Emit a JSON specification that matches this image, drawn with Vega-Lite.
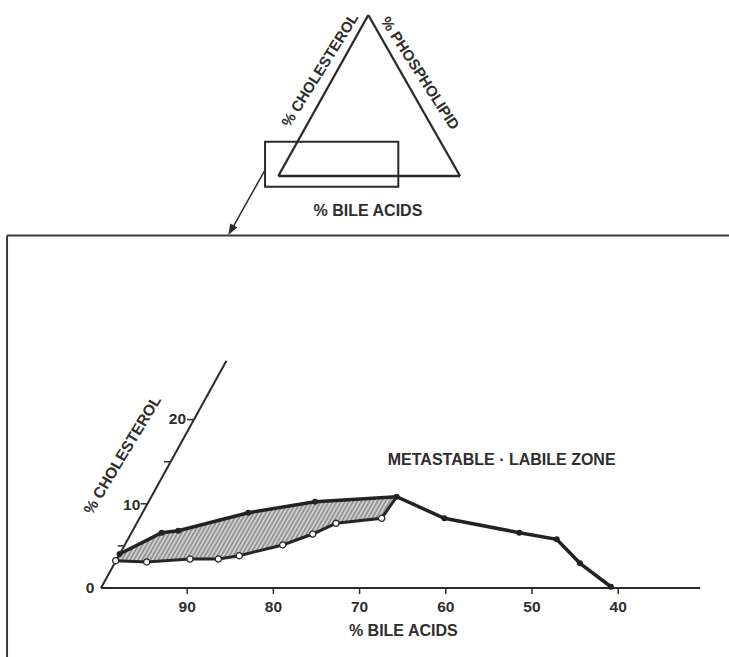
{
  "$schema": "https://vega.github.io/schema/vega-lite/v6.json",
  "width": 729,
  "height": 657,
  "padding": 0,
  "autosize": "none",
  "background": "white",
  "config": {
    "view": {"stroke": null},
    "axis": {"grid": false, "disable": true},
    "text": {"font": "Liberation Sans", "fontWeight": "bold", "fill": "#2e2e2e"}
  },
  "data": {"values": [{}]},
  "datasets": {
    "upper": [
      {"i": 1, "b": 97.85, "c": 4.04},
      {"i": 2, "b": 92.96, "c": 6.57},
      {"i": 3, "b": 91.03, "c": 6.81},
      {"i": 4, "b": 82.91, "c": 8.94},
      {"i": 5, "b": 75.17, "c": 10.25},
      {"i": 6, "b": 65.70, "c": 10.84},
      {"i": 7, "b": 60.17, "c": 8.28},
      {"i": 8, "b": 51.47, "c": 6.57},
      {"i": 9, "b": 47.13, "c": 5.78},
      {"i": 10, "b": 44.43, "c": 2.93},
      {"i": 11, "b": 40.84, "c": 0.15}
    ],
    "lower": [
      {"i": 1, "b": 98.30, "c": 3.24},
      {"i": 2, "b": 94.70, "c": 3.09},
      {"i": 3, "b": 89.68, "c": 3.44},
      {"i": 4, "b": 86.39, "c": 3.44},
      {"i": 5, "b": 83.96, "c": 3.84},
      {"i": 6, "b": 78.92, "c": 5.11},
      {"i": 7, "b": 75.44, "c": 6.41},
      {"i": 8, "b": 72.74, "c": 7.68},
      {"i": 9, "b": 67.44, "c": 8.28},
      {"i": 10, "b": 65.70, "c": 10.84}
    ],
    "zone": [
      {"i": 1, "b": 97.85, "c": 4.04},
      {"i": 2, "b": 92.96, "c": 6.57},
      {"i": 3, "b": 91.03, "c": 6.81},
      {"i": 4, "b": 82.91, "c": 8.94},
      {"i": 5, "b": 75.17, "c": 10.25},
      {"i": 6, "b": 65.70, "c": 10.84},
      {"i": 7, "b": 67.44, "c": 8.28},
      {"i": 8, "b": 72.74, "c": 7.68},
      {"i": 9, "b": 75.44, "c": 6.41},
      {"i": 10, "b": 78.92, "c": 5.11},
      {"i": 11, "b": 83.96, "c": 3.84},
      {"i": 12, "b": 86.39, "c": 3.44},
      {"i": 13, "b": 89.68, "c": 3.44},
      {"i": 14, "b": 94.70, "c": 3.09},
      {"i": 15, "b": 98.30, "c": 3.24}
    ],
    "xticks": [{"b": 90}, {"b": 80}, {"b": 70}, {"b": 60}, {"b": 50}, {"b": 40}],
    "cticks": [
      {"c": 5, "b": 97.4, "b2": 98.06},
      {"c": 10, "b": 94.7, "b2": 95.38},
      {"c": 15, "b": 92.0, "b2": 92.69},
      {"c": 20, "b": 89.3, "b2": 90.01}
    ]
  },
  "layer": [
    {
      "data": {"name": "zone"},
      "mark": {
        "type": "line", "strokeOpacity": 0, "strokeWidth": 0,
        "fill": {
          "gradient": "linear", "x1": 0, "y1": 0, "x2": 1.13, "y2": 0.15,
          "stops": [
            {"offset": 0, "color": "#ddd"}, {"offset": 0.00625, "color": "#858585"}, {"offset": 0.0125, "color": "#ddd"}, {"offset": 0.01875, "color": "#858585"},
            {"offset": 0.025, "color": "#ddd"}, {"offset": 0.03125, "color": "#858585"}, {"offset": 0.0375, "color": "#ddd"}, {"offset": 0.04375, "color": "#858585"},
            {"offset": 0.05, "color": "#ddd"}, {"offset": 0.05625, "color": "#858585"}, {"offset": 0.0625, "color": "#ddd"}, {"offset": 0.06875, "color": "#858585"},
            {"offset": 0.075, "color": "#ddd"}, {"offset": 0.08125, "color": "#858585"}, {"offset": 0.0875, "color": "#ddd"}, {"offset": 0.09375, "color": "#858585"},
            {"offset": 0.1, "color": "#ddd"}, {"offset": 0.10625, "color": "#858585"}, {"offset": 0.1125, "color": "#ddd"}, {"offset": 0.11875, "color": "#858585"},
            {"offset": 0.125, "color": "#ddd"}, {"offset": 0.13125, "color": "#858585"}, {"offset": 0.1375, "color": "#ddd"}, {"offset": 0.14375, "color": "#858585"},
            {"offset": 0.15, "color": "#ddd"}, {"offset": 0.15625, "color": "#858585"}, {"offset": 0.1625, "color": "#ddd"}, {"offset": 0.16875, "color": "#858585"},
            {"offset": 0.175, "color": "#ddd"}, {"offset": 0.18125, "color": "#858585"}, {"offset": 0.1875, "color": "#ddd"}, {"offset": 0.19375, "color": "#858585"},
            {"offset": 0.2, "color": "#ddd"}, {"offset": 0.20625, "color": "#858585"}, {"offset": 0.2125, "color": "#ddd"}, {"offset": 0.21875, "color": "#858585"},
            {"offset": 0.225, "color": "#ddd"}, {"offset": 0.23125, "color": "#858585"}, {"offset": 0.2375, "color": "#ddd"}, {"offset": 0.24375, "color": "#858585"},
            {"offset": 0.25, "color": "#ddd"}, {"offset": 0.25625, "color": "#858585"}, {"offset": 0.2625, "color": "#ddd"}, {"offset": 0.26875, "color": "#858585"},
            {"offset": 0.275, "color": "#ddd"}, {"offset": 0.28125, "color": "#858585"}, {"offset": 0.2875, "color": "#ddd"}, {"offset": 0.29375, "color": "#858585"},
            {"offset": 0.3, "color": "#ddd"}, {"offset": 0.30625, "color": "#858585"}, {"offset": 0.3125, "color": "#ddd"}, {"offset": 0.31875, "color": "#858585"},
            {"offset": 0.325, "color": "#ddd"}, {"offset": 0.33125, "color": "#858585"}, {"offset": 0.3375, "color": "#ddd"}, {"offset": 0.34375, "color": "#858585"},
            {"offset": 0.35, "color": "#ddd"}, {"offset": 0.35625, "color": "#858585"}, {"offset": 0.3625, "color": "#ddd"}, {"offset": 0.36875, "color": "#858585"},
            {"offset": 0.375, "color": "#ddd"}, {"offset": 0.38125, "color": "#858585"}, {"offset": 0.3875, "color": "#ddd"}, {"offset": 0.39375, "color": "#858585"},
            {"offset": 0.4, "color": "#ddd"}, {"offset": 0.40625, "color": "#858585"}, {"offset": 0.4125, "color": "#ddd"}, {"offset": 0.41875, "color": "#858585"},
            {"offset": 0.425, "color": "#ddd"}, {"offset": 0.43125, "color": "#858585"}, {"offset": 0.4375, "color": "#ddd"}, {"offset": 0.44375, "color": "#858585"},
            {"offset": 0.45, "color": "#ddd"}, {"offset": 0.45625, "color": "#858585"}, {"offset": 0.4625, "color": "#ddd"}, {"offset": 0.46875, "color": "#858585"},
            {"offset": 0.475, "color": "#ddd"}, {"offset": 0.48125, "color": "#858585"}, {"offset": 0.4875, "color": "#ddd"}, {"offset": 0.49375, "color": "#858585"},
            {"offset": 0.5, "color": "#ddd"}, {"offset": 0.50625, "color": "#858585"}, {"offset": 0.5125, "color": "#ddd"}, {"offset": 0.51875, "color": "#858585"},
            {"offset": 0.525, "color": "#ddd"}, {"offset": 0.53125, "color": "#858585"}, {"offset": 0.5375, "color": "#ddd"}, {"offset": 0.54375, "color": "#858585"},
            {"offset": 0.55, "color": "#ddd"}, {"offset": 0.55625, "color": "#858585"}, {"offset": 0.5625, "color": "#ddd"}, {"offset": 0.56875, "color": "#858585"},
            {"offset": 0.575, "color": "#ddd"}, {"offset": 0.58125, "color": "#858585"}, {"offset": 0.5875, "color": "#ddd"}, {"offset": 0.59375, "color": "#858585"},
            {"offset": 0.6, "color": "#ddd"}, {"offset": 0.60625, "color": "#858585"}, {"offset": 0.6125, "color": "#ddd"}, {"offset": 0.61875, "color": "#858585"},
            {"offset": 0.625, "color": "#ddd"}, {"offset": 0.63125, "color": "#858585"}, {"offset": 0.6375, "color": "#ddd"}, {"offset": 0.64375, "color": "#858585"},
            {"offset": 0.65, "color": "#ddd"}, {"offset": 0.65625, "color": "#858585"}, {"offset": 0.6625, "color": "#ddd"}, {"offset": 0.66875, "color": "#858585"},
            {"offset": 0.675, "color": "#ddd"}, {"offset": 0.68125, "color": "#858585"}, {"offset": 0.6875, "color": "#ddd"}, {"offset": 0.69375, "color": "#858585"},
            {"offset": 0.7, "color": "#ddd"}, {"offset": 0.70625, "color": "#858585"}, {"offset": 0.7125, "color": "#ddd"}, {"offset": 0.71875, "color": "#858585"},
            {"offset": 0.725, "color": "#ddd"}, {"offset": 0.73125, "color": "#858585"}, {"offset": 0.7375, "color": "#ddd"}, {"offset": 0.74375, "color": "#858585"},
            {"offset": 0.75, "color": "#ddd"}, {"offset": 0.75625, "color": "#858585"}, {"offset": 0.7625, "color": "#ddd"}, {"offset": 0.76875, "color": "#858585"},
            {"offset": 0.775, "color": "#ddd"}, {"offset": 0.78125, "color": "#858585"}, {"offset": 0.7875, "color": "#ddd"}, {"offset": 0.79375, "color": "#858585"},
            {"offset": 0.8, "color": "#ddd"}, {"offset": 0.80625, "color": "#858585"}, {"offset": 0.8125, "color": "#ddd"}, {"offset": 0.81875, "color": "#858585"},
            {"offset": 0.825, "color": "#ddd"}, {"offset": 0.83125, "color": "#858585"}, {"offset": 0.8375, "color": "#ddd"}, {"offset": 0.84375, "color": "#858585"},
            {"offset": 0.85, "color": "#ddd"}, {"offset": 0.85625, "color": "#858585"}, {"offset": 0.8625, "color": "#ddd"}, {"offset": 0.86875, "color": "#858585"},
            {"offset": 0.875, "color": "#ddd"}, {"offset": 0.88125, "color": "#858585"}, {"offset": 0.8875, "color": "#ddd"}, {"offset": 0.89375, "color": "#858585"},
            {"offset": 0.9, "color": "#ddd"}, {"offset": 0.90625, "color": "#858585"}, {"offset": 0.9125, "color": "#ddd"}, {"offset": 0.91875, "color": "#858585"},
            {"offset": 0.925, "color": "#ddd"}, {"offset": 0.93125, "color": "#858585"}, {"offset": 0.9375, "color": "#ddd"}, {"offset": 0.94375, "color": "#858585"},
            {"offset": 0.95, "color": "#ddd"}, {"offset": 0.95625, "color": "#858585"}, {"offset": 0.9625, "color": "#ddd"}, {"offset": 0.96875, "color": "#858585"},
            {"offset": 0.975, "color": "#ddd"}, {"offset": 0.98125, "color": "#858585"}, {"offset": 0.9875, "color": "#ddd"}, {"offset": 0.99375, "color": "#858585"},
            {"offset": 1, "color": "#ddd"}
          ]
        }
      },
      "encoding": {
        "x": {"field": "b", "type": "quantitative", "scale": {"domain": [27.146, 111.717], "reverse": true, "nice": false, "zero": false}, "axis": null},
        "y": {"field": "c", "type": "quantitative", "scale": {"domain": [-8.195, 69.83], "nice": false, "zero": false}, "axis": null},
        "order": {"field": "i", "type": "quantitative"}
      }
    },
    {
      "mark": {"type": "rule", "stroke": "#2a2a2a", "strokeWidth": 2},
      "encoding": {
        "x": {"datum": 100, "type": "quantitative", "scale": {"domain": [27.146, 111.717], "reverse": true, "nice": false, "zero": false}, "axis": null},
        "y": {"datum": 0, "type": "quantitative", "scale": {"domain": [-8.195, 69.83], "nice": false, "zero": false}, "axis": null},
        "x2": {"datum": 85.45}, "y2": {"datum": 27.0}
      }
    },
    {
      "mark": {"type": "rule", "stroke": "#2a2a2a", "strokeWidth": 2},
      "encoding": {
        "x": {"datum": 100, "type": "quantitative", "scale": {"domain": [27.146, 111.717], "reverse": true, "nice": false, "zero": false}, "axis": null},
        "y": {"datum": 0, "type": "quantitative", "scale": {"domain": [-8.195, 69.83], "nice": false, "zero": false}, "axis": null},
        "x2": {"datum": 30.5}
      }
    },
    {
      "data": {"name": "xticks"},
      "mark": {"type": "rule", "stroke": "#2a2a2a", "strokeWidth": 1.5},
      "encoding": {
        "x": {"field": "b", "type": "quantitative", "scale": {"domain": [27.146, 111.717], "reverse": true, "nice": false, "zero": false}, "axis": null},
        "y": {"datum": 0, "type": "quantitative", "scale": {"domain": [-8.195, 69.83], "nice": false, "zero": false}, "axis": null},
        "y2": {"datum": -0.71}
      }
    },
    {
      "data": {"name": "xticks"},
      "mark": {"type": "text", "fontSize": 15.5, "align": "center", "baseline": "middle"},
      "encoding": {
        "x": {"field": "b", "type": "quantitative", "scale": {"domain": [27.146, 111.717], "reverse": true, "nice": false, "zero": false}, "axis": null},
        "y": {"datum": -2.22, "type": "quantitative", "scale": {"domain": [-8.195, 69.83], "nice": false, "zero": false}, "axis": null},
        "text": {"field": "b", "type": "quantitative", "format": "d"}
      }
    },
    {
      "data": {"name": "cticks"},
      "mark": {"type": "rule", "stroke": "#2a2a2a", "strokeWidth": 1.5},
      "encoding": {
        "x": {"field": "b", "type": "quantitative", "scale": {"domain": [27.146, 111.717], "reverse": true, "nice": false, "zero": false}, "axis": null},
        "y": {"field": "c", "type": "quantitative", "scale": {"domain": [-8.195, 69.83], "nice": false, "zero": false}, "axis": null},
        "x2": {"field": "b2"}
      }
    },
    {
      "mark": {"type": "text", "fontSize": 15.5, "align": "center", "baseline": "middle", "text": "10"},
      "encoding": {
        "x": {"datum": 96.44, "type": "quantitative", "scale": {"domain": [27.146, 111.717], "reverse": true, "nice": false, "zero": false}, "axis": null},
        "y": {"datum": 9.86, "type": "quantitative", "scale": {"domain": [-8.195, 69.83], "nice": false, "zero": false}, "axis": null}
      }
    },
    {
      "mark": {"type": "text", "fontSize": 15.5, "align": "center", "baseline": "middle", "text": "20"},
      "encoding": {
        "x": {"datum": 91.13, "type": "quantitative", "scale": {"domain": [27.146, 111.717], "reverse": true, "nice": false, "zero": false}, "axis": null},
        "y": {"datum": 20.04, "type": "quantitative", "scale": {"domain": [-8.195, 69.83], "nice": false, "zero": false}, "axis": null}
      }
    },
    {
      "mark": {"type": "text", "fontSize": 15.5, "align": "center", "baseline": "middle", "text": "0"},
      "encoding": {
        "x": {"datum": 101.28, "type": "quantitative", "scale": {"domain": [27.146, 111.717], "reverse": true, "nice": false, "zero": false}, "axis": null},
        "y": {"datum": 0, "type": "quantitative", "scale": {"domain": [-8.195, 69.83], "nice": false, "zero": false}, "axis": null}
      }
    },
    {
      "data": {"name": "lower"},
      "mark": {"type": "line", "stroke": "#262626", "strokeWidth": 3},
      "encoding": {
        "x": {"field": "b", "type": "quantitative", "scale": {"domain": [27.146, 111.717], "reverse": true, "nice": false, "zero": false}, "axis": null},
        "y": {"field": "c", "type": "quantitative", "scale": {"domain": [-8.195, 69.83], "nice": false, "zero": false}, "axis": null},
        "order": {"field": "i", "type": "quantitative"}
      }
    },
    {
      "data": {"name": "upper"},
      "mark": {"type": "line", "stroke": "#222222", "strokeWidth": 3.5},
      "encoding": {
        "x": {"field": "b", "type": "quantitative", "scale": {"domain": [27.146, 111.717], "reverse": true, "nice": false, "zero": false}, "axis": null},
        "y": {"field": "c", "type": "quantitative", "scale": {"domain": [-8.195, 69.83], "nice": false, "zero": false}, "axis": null},
        "order": {"field": "i", "type": "quantitative"}
      }
    },
    {
      "data": {"name": "upper"},
      "mark": {"type": "point", "shape": "circle", "filled": true, "fill": "#222222", "size": 36, "opacity": 1},
      "encoding": {
        "x": {"field": "b", "type": "quantitative", "scale": {"domain": [27.146, 111.717], "reverse": true, "nice": false, "zero": false}, "axis": null},
        "y": {"field": "c", "type": "quantitative", "scale": {"domain": [-8.195, 69.83], "nice": false, "zero": false}, "axis": null}
      }
    },
    {
      "data": {"name": "lower"},
      "transform": [{"filter": "datum.i <= 9"}],
      "mark": {"type": "point", "shape": "circle", "filled": true, "fill": "white", "stroke": "#262626", "strokeWidth": 1.3, "size": 38, "opacity": 1},
      "encoding": {
        "x": {"field": "b", "type": "quantitative", "scale": {"domain": [27.146, 111.717], "reverse": true, "nice": false, "zero": false}, "axis": null},
        "y": {"field": "c", "type": "quantitative", "scale": {"domain": [-8.195, 69.83], "nice": false, "zero": false}, "axis": null}
      }
    },
    {
      "mark": {"type": "text", "fontSize": 16, "align": "center", "baseline": "middle", "text": "METASTABLE · LABILE ZONE"},
      "encoding": {
        "x": {"datum": 53.52, "type": "quantitative", "scale": {"domain": [27.146, 111.717], "reverse": true, "nice": false, "zero": false}, "axis": null},
        "y": {"datum": 15.2, "type": "quantitative", "scale": {"domain": [-8.195, 69.83], "nice": false, "zero": false}, "axis": null}
      }
    },
    {
      "mark": {"type": "text", "fontSize": 15.5, "align": "center", "baseline": "middle", "angle": 301, "text": "% CHOLESTEROL"},
      "encoding": {
        "x": {"datum": 97.51, "type": "quantitative", "scale": {"domain": [27.146, 111.717], "reverse": true, "nice": false, "zero": false}, "axis": null},
        "y": {"datum": 15.8, "type": "quantitative", "scale": {"domain": [-8.195, 69.83], "nice": false, "zero": false}, "axis": null}
      }
    },
    {
      "mark": {"type": "text", "fontSize": 16, "align": "center", "baseline": "middle", "text": "% BILE ACIDS"},
      "encoding": {
        "x": {"datum": 64.93, "type": "quantitative", "scale": {"domain": [27.146, 111.717], "reverse": true, "nice": false, "zero": false}, "axis": null},
        "y": {"datum": -5.11, "type": "quantitative", "scale": {"domain": [-8.195, 69.83], "nice": false, "zero": false}, "axis": null}
      }
    },
    {
      "mark": {"type": "rule", "stroke": "#3a3a3a", "strokeWidth": 2},
      "encoding": {
        "x": {"datum": 110.9, "type": "quantitative", "scale": {"domain": [27.146, 111.717], "reverse": true, "nice": false, "zero": false}, "axis": null},
        "y": {"datum": 41.86, "type": "quantitative", "scale": {"domain": [-8.195, 69.83], "nice": false, "zero": false}, "axis": null},
        "x2": {"datum": 26}
      }
    },
    {
      "mark": {"type": "rule", "stroke": "#3a3a3a", "strokeWidth": 2},
      "encoding": {
        "x": {"datum": 110.9, "type": "quantitative", "scale": {"domain": [27.146, 111.717], "reverse": true, "nice": false, "zero": false}, "axis": null},
        "y": {"datum": 41.86, "type": "quantitative", "scale": {"domain": [-8.195, 69.83], "nice": false, "zero": false}, "axis": null},
        "y2": {"datum": -9}
      }
    },
    {
      "mark": {"type": "rule", "stroke": "#2a2a2a", "strokeWidth": 2.3},
      "encoding": {
        "x": {"datum": 68.99, "type": "quantitative", "scale": {"domain": [27.146, 111.717], "reverse": true, "nice": false, "zero": false}, "axis": null},
        "y": {"datum": 68.05, "type": "quantitative", "scale": {"domain": [-8.195, 69.83], "nice": false, "zero": false}, "axis": null},
        "x2": {"datum": 79.43}, "y2": {"datum": 48.93}
      }
    },
    {
      "mark": {"type": "rule", "stroke": "#2a2a2a", "strokeWidth": 2.3},
      "encoding": {
        "x": {"datum": 68.99, "type": "quantitative", "scale": {"domain": [27.146, 111.717], "reverse": true, "nice": false, "zero": false}, "axis": null},
        "y": {"datum": 68.05, "type": "quantitative", "scale": {"domain": [-8.195, 69.83], "nice": false, "zero": false}, "axis": null},
        "x2": {"datum": 58.35}, "y2": {"datum": 48.93}
      }
    },
    {
      "mark": {"type": "rule", "stroke": "#2a2a2a", "strokeWidth": 2.3},
      "encoding": {
        "x": {"datum": 79.43, "type": "quantitative", "scale": {"domain": [27.146, 111.717], "reverse": true, "nice": false, "zero": false}, "axis": null},
        "y": {"datum": 48.93, "type": "quantitative", "scale": {"domain": [-8.195, 69.83], "nice": false, "zero": false}, "axis": null},
        "x2": {"datum": 58.35}
      }
    },
    {
      "mark": {"type": "rect", "fillOpacity": 0, "stroke": "#2a2a2a", "strokeWidth": 2},
      "encoding": {
        "x": {"datum": 80.97, "type": "quantitative", "scale": {"domain": [27.146, 111.717], "reverse": true, "nice": false, "zero": false}, "axis": null},
        "y": {"datum": 53.0, "type": "quantitative", "scale": {"domain": [-8.195, 69.83], "nice": false, "zero": false}, "axis": null},
        "x2": {"datum": 65.51}, "y2": {"datum": 47.66}
      }
    },
    {
      "mark": {"type": "rule", "stroke": "#2a2a2a", "strokeWidth": 1.5},
      "encoding": {
        "x": {"datum": 80.97, "type": "quantitative", "scale": {"domain": [27.146, 111.717], "reverse": true, "nice": false, "zero": false}, "axis": null},
        "y": {"datum": 49.64, "type": "quantitative", "scale": {"domain": [-8.195, 69.83], "nice": false, "zero": false}, "axis": null},
        "x2": {"datum": 85.0}, "y2": {"datum": 42.3}
      }
    },
    {
      "mark": {"type": "point", "shape": "M0,0L-0.4,-1.1L0.4,-1.1Z", "filled": true, "fill": "#2a2a2a", "size": 400, "angle": 29.4, "opacity": 1},
      "encoding": {
        "x": {"datum": 85.23, "type": "quantitative", "scale": {"domain": [27.146, 111.717], "reverse": true, "nice": false, "zero": false}, "axis": null},
        "y": {"datum": 41.92, "type": "quantitative", "scale": {"domain": [-8.195, 69.83], "nice": false, "zero": false}, "axis": null}
      }
    },
    {
      "mark": {"type": "text", "fontSize": 16, "align": "center", "baseline": "middle", "text": "% BILE ACIDS"},
      "encoding": {
        "x": {"datum": 69.03, "type": "quantitative", "scale": {"domain": [27.146, 111.717], "reverse": true, "nice": false, "zero": false}, "axis": null},
        "y": {"datum": 44.77, "type": "quantitative", "scale": {"domain": [-8.195, 69.83], "nice": false, "zero": false}, "axis": null}
      }
    },
    {
      "mark": {"type": "text", "fontSize": 15, "align": "center", "baseline": "middle", "angle": 302, "text": "% CHOLESTEROL"},
      "encoding": {
        "x": {"datum": 74.59, "type": "quantitative", "scale": {"domain": [27.146, 111.717], "reverse": true, "nice": false, "zero": false}, "axis": null},
        "y": {"datum": 61.52, "type": "quantitative", "scale": {"domain": [-8.195, 69.83], "nice": false, "zero": false}, "axis": null}
      }
    },
    {
      "mark": {"type": "text", "fontSize": 15, "align": "center", "baseline": "middle", "angle": 57, "text": "% PHOSPHOLIPID"},
      "encoding": {
        "x": {"datum": 62.99, "type": "quantitative", "scale": {"domain": [27.146, 111.717], "reverse": true, "nice": false, "zero": false}, "axis": null},
        "y": {"datum": 61.13, "type": "quantitative", "scale": {"domain": [-8.195, 69.83], "nice": false, "zero": false}, "axis": null}
      }
    }
  ]
}
